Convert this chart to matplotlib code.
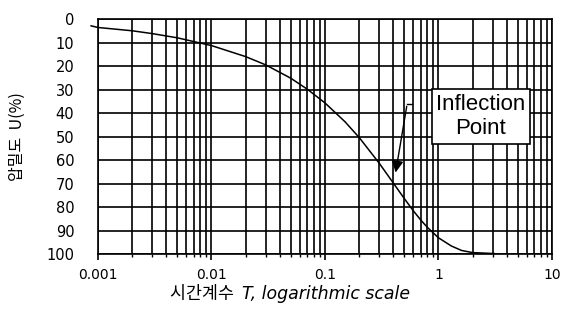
import matplotlib.pyplot as plt
from matplotlib.ticker import FixedLocator, FixedFormatter, LogLocator, NullFormatter

# time factor T and degree of consolidation U (%)
time_factor = [0.00087, 0.001, 0.002, 0.003, 0.005, 0.01, 0.02, 0.03, 0.05, 0.07,
               0.1, 0.15, 0.2, 0.3, 0.4, 0.5, 0.6, 0.7, 0.8, 1.0, 1.3, 1.6, 2.0, 3.1]
consolidation = [2.9, 3.6, 5.0, 6.2, 8.0, 11.3, 16.0, 19.5, 25.2, 29.9,
                 35.7, 43.7, 50.4, 61.3, 69.8, 76.4, 81.6, 85.6, 88.7, 93.1, 96.6, 98.5, 99.4, 99.8]

x_ticks = [0.001, 0.01, 0.1, 1, 10]
x_tick_labels = ["0.001", "0.01", "0.1", "1", "10"]
y_ticks = list(range(0, 101, 10))

# arrow pointing at the inflection point
arrow_tip = (0.415, 66.5)
arrow_tail = (0.53, 36.0)
box_pos = (2.35, 41.5)

fig = plt.figure(figsize=(5.67, 3.24), dpi=100)
ax = fig.add_axes([0.1728, 0.216, 0.8007, 0.7253])

ax.plot(time_factor, consolidation, color="black", lw=1.1, clip_on=False, zorder=3)

ax.set_xscale("log")
ax.set_xlim(0.001, 10)
ax.set_ylim(100, 0)

ax.xaxis.set_major_locator(FixedLocator(x_ticks))
ax.xaxis.set_major_formatter(FixedFormatter(x_tick_labels))
ax.xaxis.set_minor_locator(LogLocator(base=10, subs=range(2, 10)))
ax.xaxis.set_minor_formatter(NullFormatter())
ax.set_yticks(y_ticks)

ax.grid(True, which="major", color="black", lw=1.2)
ax.grid(True, which="minor", axis="x", color="black", lw=1.2)
ax.tick_params(axis="x", which="major", length=4, width=1.2, pad=6, labelsize=10)
ax.tick_params(axis="x", which="minor", length=2, width=1.0)
ax.tick_params(axis="y", length=0, pad=17, labelsize=10.5)
for s in ax.spines.values():
    s.set_linewidth(1.2)
    s.set_color("black")

# axis labels
ax.set_ylabel("압밀도  U(%)", family=["Noto Sans CJK KR", "DejaVu Sans"], fontsize=11.5)
ax.yaxis.set_label_coords(-0.158, 0.5)

t1 = ax.text(0.159, -0.17, "시간계수  ", transform=ax.transAxes,
             family=["Noto Sans CJK KR", "DejaVu Sans"], fontsize=12.5, va="center")
ax.annotate("T, logarithmic scale", xy=(1, 0.5), xycoords=t1, va="center",
            style="italic", fontsize=12.5, family="DejaVu Sans")

# inflection point annotation
ax.text(box_pos[0], box_pos[1], "Inflection\nPoint", ha="center", va="center",
        fontsize=16, family="Liberation Sans", linespacing=1.2, zorder=5,
        bbox=dict(boxstyle="square,pad=0.2", fc="white", ec="black", lw=1.2))
ax.annotate("", xy=arrow_tip, xytext=arrow_tail,
            arrowprops=dict(arrowstyle="-|>,head_length=0.7,head_width=0.35",
                            color="black", lw=1.0), zorder=5)
ax.plot([arrow_tail[0], arrow_tail[0] * 1.1], [arrow_tail[1], arrow_tail[1]],
        color="black", lw=1.0, zorder=5)

fig.savefig("out.png", dpi=100)
